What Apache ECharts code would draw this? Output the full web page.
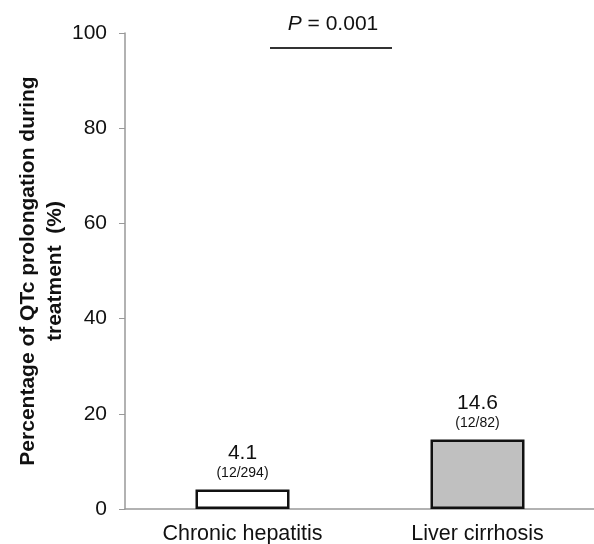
<!DOCTYPE html>
<html><head><meta charset="utf-8">
<script src="https://cdn.jsdelivr.net/npm/echarts@6/dist/echarts.min.js"></script>
<style>html,body{margin:0;padding:0;background:#fff}#c{width:594px;height:544px}</style>
</head><body><div id="c"></div>
<script>
const categories = ['Chronic hepatitis', 'Liver cirrhosis'];
const values = [4.1, 14.6];
const counts = ['(12/294)', '(12/82)'];
const barColors = ['#ffffff', '#c0c0c0'];
const yTicks = [0, 20, 40, 60, 80, 100];
const pText = '0.001';

const chart = echarts.init(document.getElementById('c'));
const F = 'Liberation Sans, Arial, sans-serif';
chart.setOption({
  animation: false,
  grid: {left: 125, right: -1, top: 33, bottom: 35, containLabel: false, outerBoundsMode: 'none'},
  xAxis: {
    type: 'category', data: categories,
    axisLine: {lineStyle: {color: '#999', width: 1.5}},
    axisTick: {show: false},
    axisLabel: {fontFamily: F, fontSize: 21.5, color: '#111', margin: 14}
  },
  yAxis: {
    type: 'value', min: yTicks[0], max: yTicks[yTicks.length-1], interval: 20,
    splitLine: {show: false},
    axisLine: {show: true, lineStyle: {color: '#999', width: 1.5}},
    axisTick: {show: true, inside: false, length: 6, lineStyle: {color: '#999'}},
    axisLabel: {fontFamily: F, fontSize: 21, color: '#111', margin: 18},
    name: 'Percentage of QTc prolongation during\ntreatment  (%)',
    nameLocation: 'middle', nameGap: 56, nameMoveOverlap: false,
    nameTextStyle: {fontFamily: F, fontSize: 21, fontWeight: 'bold', color: '#111', lineHeight: 27}
  },
  series: [{
    type: 'bar', barWidth: '40%',
    data: values.map((v, i) => ({value: v, itemStyle: {color: barColors[i]}})),
    itemStyle: {borderColor: '#111', borderWidth: 2.5},
    label: {
      show: true, position: 'top', distance: 7,
      formatter: p => '{a|' + p.value + '}\n{b|' + counts[p.dataIndex] + '}',
      rich: {
        a: {fontFamily: F, fontSize: 21, color: '#111', lineHeight: 22, align: 'center'},
        b: {fontFamily: F, fontSize: 14, color: '#111', lineHeight: 18, align: 'center'}
      }
    }
  }],
  graphic: [
    {type: 'line', shape: {x1: 270, y1: 48, x2: 392, y2: 48}, style: {stroke: '#333', lineWidth: 2}},
    {type: 'text', x: 333, y: 24, style: {
      text: '{i|P}{n| = ' + pText + '}', align: 'center', verticalAlign: 'middle',
      rich: {i: {fontFamily: F, fontSize: 21, fontStyle: 'italic', fill: '#111'},
             n: {fontFamily: F, fontSize: 21, fill: '#111'}}
    }}
  ]
});
</script></body></html>
